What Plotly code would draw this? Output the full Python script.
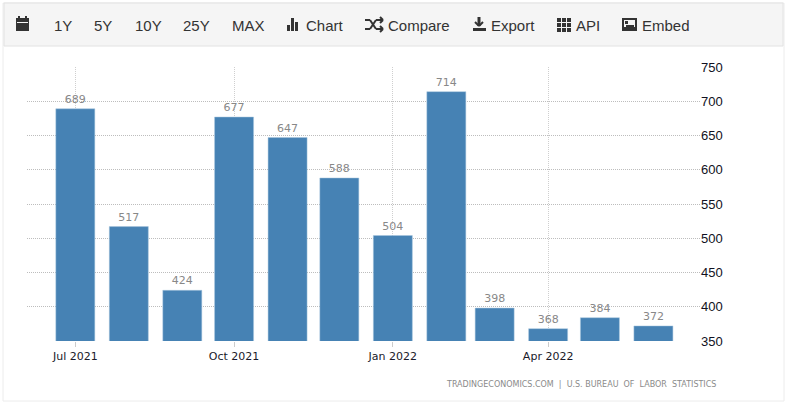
import plotly.graph_objects as go

W, H = 789, 404

months = ["2021-07-01", "2021-08-01", "2021-09-01", "2021-10-01", "2021-11-01", "2021-12-01",
          "2022-01-01", "2022-02-01", "2022-03-01", "2022-04-01", "2022-05-01", "2022-06-01"]
values = [689, 517, 424, 677, 647, 588, 504, 714, 398, 368, 384, 372]
x_tick_dates = ["2021-07-01", "2021-10-01", "2022-01-01", "2022-04-01"]
x_tick_labels = ["Jul 2021", "Oct 2021", "Jan 2022", "Apr 2022"]
y_ticks = [350, 400, 450, 500, 550, 600, 650, 700, 750]
toolbar_labels = ["1Y", "5Y", "10Y", "25Y", "MAX", "Chart", "Compare", "Export", "API", "Embed"]
toolbar_x = [52, 92, 133, 181, 230, 304, 386, 489, 574, 640]
source = "TRADINGECONOMICS.COM  |  U.S. BUREAU  OF  LABOR  STATISTICS"

BAR_DAYS = 22.6
DARK = "#333333"


def px(x):
    return x / W


def py(y):
    return 1 - y / H


def box(x0, y0, x1, y1, fill=DARK, line="rgba(0,0,0,0)", width=0):
    return dict(type="rect", xref="paper", yref="paper", layer="below",
                x0=px(x0), x1=px(x1), y0=py(y0), y1=py(y1),
                fillcolor=fill, line=dict(color=line, width=width))


def seg(x0, y0, x1, y1, width=2):
    return dict(type="line", xref="paper", yref="paper",
                x0=px(x0), x1=px(x1), y0=py(y0), y1=py(y1),
                line=dict(color=DARK, width=width))


fig = go.Figure()

fig.add_trace(go.Bar(
    x=months,
    y=values,
    width=BAR_DAYS * 86400000,
    marker=dict(color="#4682b4", line=dict(color="#a9c6de", width=0.5)),
    text=values,
    textposition="outside",
    cliponaxis=False,
    textfont=dict(family="DejaVu Sans", size=11, color="#888888"),
    showlegend=False,
))

# panel and toolbar background
shapes = [
    box(3, 3, 784, 401, fill="white", line="#ececec", width=1),
    box(4, 3, 783, 46, fill="#f5f5f5", line="#e2e2e2", width=1),
]

# calendar icon
shapes.append(box(16, 18, 29, 31))
shapes.append(seg(19, 16, 19, 19))
shapes.append(seg(26, 16, 26, 19))
shapes.append(box(17, 22, 28, 23, fill="#f5f5f5"))
# chart icon
shapes += [box(287, 25, 290, 31), box(291, 18, 294, 31), box(295, 22, 298, 31)]
# shuffle icon
shapes += [seg(365, 20, 370, 20), seg(370, 20, 376, 29), seg(376, 29, 382, 29),
           seg(365, 29, 370, 29), seg(370, 29, 376, 20), seg(376, 20, 382, 20),
           seg(380, 17, 383, 20), seg(380, 23, 383, 20), seg(380, 26, 383, 29), seg(380, 32, 383, 29)]
# export icon
shapes += [seg(479, 17, 479, 26, width=3), seg(475, 22, 479, 26), seg(483, 22, 479, 26),
           box(473, 28, 486, 31)]
# api icon
for col in [557, 562, 567]:
    for row in [18, 23, 28]:
        shapes.append(box(col, row, col + 4, row + 4))
# embed icon
shapes += [box(622, 18, 637, 31), box(624, 20, 635, 27, fill="#f5f5f5"),
           box(625, 21, 628, 24), box(626, 25, 634, 29)]

annotations = [
    dict(text=label, x=px(pos), y=py(25), xref="paper", yref="paper", xanchor="left", yanchor="middle",
         showarrow=False, font=dict(family="Liberation Sans", size=15, color=DARK))
    for label, pos in zip(toolbar_labels, toolbar_x)
]
annotations.append(dict(text=source, x=px(718), y=py(384), xref="paper", yref="paper",
                        xanchor="right", yanchor="middle", showarrow=False,
                        font=dict(family="DejaVu Sans", size=8, color="#8a8a8a")))

fig.update_layout(
    width=W,
    height=H,
    margin=dict(l=0, r=0, t=0, b=0, autoexpand=False),
    paper_bgcolor="white",
    plot_bgcolor="rgba(0,0,0,0)",
    shapes=shapes,
    annotations=annotations,
    xaxis=dict(
        type="date",
        domain=[px(27), px(700)],
        range=["2021-06-03", "2022-06-28"],
        tickvals=x_tick_dates,
        ticktext=x_tick_labels,
        ticks="outside",
        ticklen=5,
        tickcolor="#cccccc",
        showgrid=True,
        gridcolor="#cfcfcf",
        griddash="1px,1px",
        showline=False,
        zeroline=False,
        tickfont=dict(family="DejaVu Sans", size=11, color="#1a1a2a"),
    ),
    yaxis=dict(
        side="right",
        domain=[py(341), py(67)],
        range=[350, 750],
        tickvals=y_ticks,
        showgrid=True,
        gridcolor="#bdbdbd",
        griddash="1px,1px",
        zeroline=False,
        ticks="",
        tickfont=dict(family="Liberation Sans", size=13, color="#111122"),
    ),
)

fig.write_html("out.html", config=dict(displayModeBar=False),
               post_script="document.body.style.margin='0';")
